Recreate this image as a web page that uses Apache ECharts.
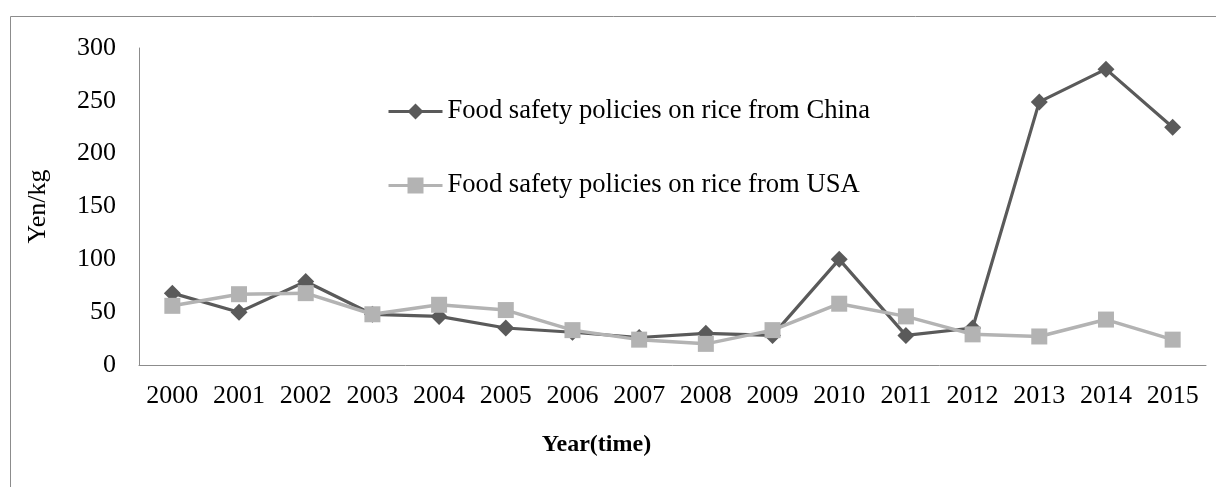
<!DOCTYPE html>
<html>
<head>
<meta charset="utf-8">
<script src="https://cdn.jsdelivr.net/npm/echarts@6/dist/echarts.min.js"></script>
<style>html,body{margin:0;padding:0;background:#fff}#c{width:1216px;height:487px}</style>
</head>
<body>
<div id="c"></div>
<script>
var years = ['2000','2001','2002','2003','2004','2005','2006','2007','2008','2009','2010','2011','2012','2013','2014','2015'];
var chinaValues = [68, 50, 79, 48, 46, 35, 31, 26, 30, 28, 100, 28, 35, 249, 280, 225];
var usaValues = [56, 67, 68, 48, 57, 52, 33, 24, 20, 33, 58, 46, 29, 27, 43, 24];
var seriesNames = ['Food safety policies on rice from China', 'Food safety policies on rice from USA'];

var FONT = '"Liberation Serif", "Times New Roman", serif';
var chart = echarts.init(document.getElementById('c'), null, {renderer: 'canvas'});
chart.setOption({
  animation: false,
  backgroundColor: '#fff',
  textStyle: {fontFamily: FONT},
  graphic: [{
    type: 'rect', silent: true, z: -1,
    shape: {x: 10.5, y: 16.5, width: 1230, height: 520},
    style: {fill: 'none', stroke: '#8c8c8c', lineWidth: 1}
  }],
  legend: {
    orient: 'vertical',
    left: 382, top: 93,
    padding: 5,
    itemWidth: 54, itemHeight: 20,
    itemGap: 47,
    lineStyle: {width: 3},
    textStyle: {fontFamily: FONT, fontSize: 26.6, color: '#000'},
    data: seriesNames
  },
  grid: {left: 139, right: 10, top: 48, bottom: 122, containLabel: false},
  xAxis: {
    type: 'category',
    data: years,
    boundaryGap: true,
    axisLine: {lineStyle: {color: '#8c8c8c', width: 1}},
    axisTick: {show: false},
    axisLabel: {fontFamily: FONT, fontSize: 26, color: '#000', margin: 18, interval: 0},
    name: 'Year(time)',
    nameLocation: 'middle',
    nameGap: 68,
    nameTextStyle: {fontFamily: FONT, fontSize: 24, fontWeight: 'bold', color: '#000', padding: [0, 152, 0, 0]}
  },
  yAxis: {
    type: 'value',
    min: 0, max: 300, interval: 50,
    splitLine: {show: false},
    axisLine: {show: true, lineStyle: {color: '#8c8c8c', width: 1}},
    axisTick: {show: false},
    axisLabel: {fontFamily: FONT, fontSize: 26, color: '#000', margin: 23},
    name: 'Yen/kg',
    nameLocation: 'middle',
    nameGap: 88,
    nameTextStyle: {fontFamily: FONT, fontSize: 26, color: '#000'}
  },
  series: [{
    name: seriesNames[0],
    type: 'line',
    data: chinaValues,
    symbol: 'diamond',
    symbolSize: 17,
    lineStyle: {color: '#5a5a5a', width: 3.2},
    itemStyle: {color: '#5a5a5a'},
    z: 3
  }, {
    name: seriesNames[1],
    type: 'line',
    data: usaValues,
    symbol: 'rect',
    symbolSize: 16,
    lineStyle: {color: '#b3b3b3', width: 3.5},
    itemStyle: {color: '#b3b3b3'},
    z: 4
  }]
});
</script>
</body>
</html>
